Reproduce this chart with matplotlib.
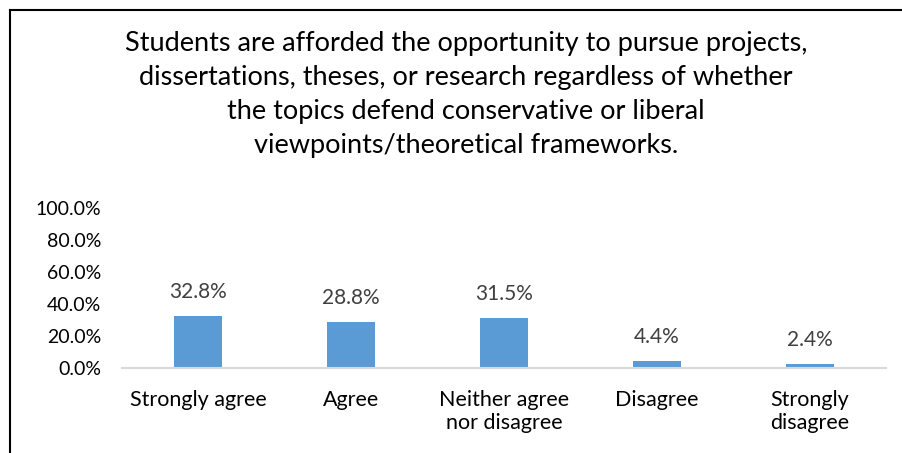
import matplotlib.pyplot as plt
from matplotlib.lines import Line2D
from matplotlib.ticker import PercentFormatter

plt.rcParams['font.family'] = ['Lato', 'DejaVu Sans']

title = ("Students are afforded the opportunity to pursue projects,\n"
         "dissertations, theses, or research regardless of whether\n"
         "the topics defend conservative or liberal\n"
         "viewpoints/theoretical frameworks.")
categories = ["Strongly agree", "Agree", "Neither agree\nnor disagree", "Disagree", "Strongly\ndisagree"]
values = [0.328, 0.288, 0.315, 0.044, 0.024]
yticks = [0.0, 0.2, 0.4, 0.6, 0.8, 1.0]

W, H = 903, 453
fig = plt.figure(figsize=(W / 100, H / 100), dpi=100)
ax = fig.add_axes([122 / W, 1 - 368 / H, (886 - 122) / W, (368 - 208) / H])

x = range(len(categories))
ax.bar(x, values, width=0.314, color='#5B9BD5')
for i, v in zip(x, values):
    ax.annotate(f"{v * 100:.1f}%", (i, v), xytext=(0, 10), textcoords='offset points',
                ha='center', va='bottom', fontsize=15, color='#404040')

ax.set_xlim(-0.5, len(categories) - 0.5)
ax.set_ylim(0, 1)
ax.set_yticks(yticks)
ax.yaxis.set_major_formatter(PercentFormatter(1.0, decimals=1))
ax.set_xticks(list(x))
ax.set_xticklabels(categories, fontsize=15.5, linespacing=1.2)
ax.tick_params(axis='y', length=0, pad=15, labelsize=14)
ax.tick_params(axis='x', length=0, pad=16)
for s in ['top', 'right', 'left']:
    ax.spines[s].set_visible(False)
ax.spines['bottom'].set_color('#D9D9D9')
ax.spines['bottom'].set_linewidth(1.5)

fig.text(466 / W, 1 - 31 / H, title, ha='center', va='top', fontsize=19.5, linespacing=1.45)

# border of the chart box
fig.add_artist(Line2D([10 / W, 1], [1 - 10 / H, 1 - 10 / H], color='black', lw=1.5))
fig.add_artist(Line2D([10 / W, 10 / W], [0, 1 - 10 / H], color='black', lw=1.5))

fig.savefig('out.png', dpi=100)
